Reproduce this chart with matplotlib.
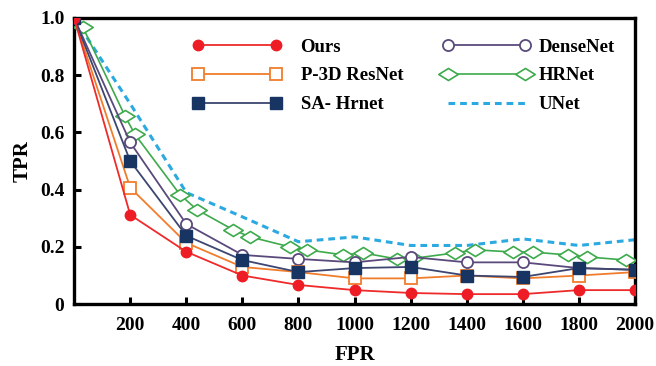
import matplotlib
matplotlib.use('Agg')
import matplotlib.pyplot as plt
from matplotlib.path import Path

fpr = [0, 200, 400, 600, 800, 1000, 1200, 1400, 1600, 1800, 2000]

ours     = [1.0, 0.312, 0.183, 0.100, 0.067, 0.049, 0.039, 0.035, 0.035, 0.049, 0.049]
p3d      = [1.0, 0.407, 0.214, 0.130, 0.112, 0.090, 0.090, 0.100, 0.090, 0.100, 0.112]
sa_hrnet = [1.0, 0.500, 0.239, 0.154, 0.112, 0.126, 0.130, 0.100, 0.095, 0.126, 0.120]
densenet = [1.0, 0.565, 0.280, 0.172, 0.158, 0.146, 0.165, 0.146, 0.146, 0.126, 0.120]
unet     = [1.0, 0.700, 0.390, 0.305, 0.218, 0.235, 0.205, 0.205, 0.228, 0.205, 0.225]

hrnet_x = [0, 30, 182, 217, 378, 438, 567, 627, 770, 830, 960, 1030, 1150, 1210,
           1358, 1430, 1565, 1635, 1760, 1830, 1968, 2000]
hrnet_y = [1.0, 0.97, 0.656, 0.593, 0.382, 0.330, 0.260, 0.235, 0.200, 0.190, 0.172, 0.179,
           0.158, 0.160, 0.179, 0.190, 0.182, 0.182, 0.172, 0.165, 0.154, 0.147]

xticks = [200, 400, 600, 800, 1000, 1200, 1400, 1600, 1800, 2000]
yticks = [0, 0.2, 0.4, 0.6, 0.8, 1.0]
ytick_labels = ['0', '0.2', '0.4', '0.6', '0.8', '1.0']

plt.rcParams['font.family'] = 'Liberation Serif'
plt.rcParams['font.weight'] = 'bold'

# flat diamond marker
diamond = Path([(-1, 0), (0, 0.62), (1, 0), (0, -0.62), (-1, 0)],
               [Path.MOVETO, Path.LINETO, Path.LINETO, Path.LINETO, Path.CLOSEPOLY])

fig = plt.figure(figsize=(6.56, 3.66), dpi=100)
ax = fig.add_axes([0.113, 0.169, 0.855, 0.782])

ax.plot(fpr, unet, color='#2BA9E1', linestyle=(0, (2.2, 1.6)), linewidth=2.2, label='UNet', zorder=2)
ax.plot(hrnet_x, hrnet_y, color='#3DAA4C', linewidth=1.2, marker=diamond, markersize=14,
        markerfacecolor='white', markeredgecolor='#3DAA4C', markeredgewidth=1.2,
        markevery=list(range(1, len(hrnet_x) - 1)), label='HRNet', zorder=3)
ax.plot(fpr, densenet, color='#5A4A7C', linewidth=1.3, marker='o', markersize=8,
        markerfacecolor='white', markeredgecolor='#5A4A7C', markeredgewidth=1.3,
        label='DenseNet', zorder=4)
ax.plot(fpr, p3d, color='#F07D2C', linewidth=1.3, marker='s', markersize=8.5,
        markerfacecolor='white', markeredgecolor='#F07D2C', markeredgewidth=1.3,
        label='P-3D ResNet', zorder=5)
ax.plot(fpr, sa_hrnet, color='#3C4670', linewidth=1.3, marker='s', markersize=8,
        markerfacecolor='#183462', markeredgecolor='#183462',
        label='SA- Hrnet', zorder=6)
ax.plot(fpr, ours, color='#EE2A2A', linewidth=1.3, marker='o', markersize=7.5,
        markerfacecolor='#EE1C25', markeredgecolor='#EE1C25',
        label='Ours', zorder=7)

ax.set_xlim(0, 2000)
ax.set_ylim(0, 1.0)
ax.set_xticks(xticks)
ax.set_xticklabels([str(t) for t in xticks], fontsize=14, fontweight='bold')
ax.set_yticks(yticks)
ax.set_yticklabels(ytick_labels, fontsize=14, fontweight='bold')
ax.tick_params(axis='x', direction='in', length=5, width=2.2, pad=9)
ax.tick_params(axis='y', direction='in', length=5, width=2.2, pad=7)
for s in ax.spines.values():
    s.set_linewidth(2.4)

ax.set_xlabel('FPR', fontsize=15, fontweight='bold', labelpad=8)
ax.set_ylabel('TPR', fontsize=15, fontweight='bold', labelpad=5)

handles, labels = ax.get_legend_handles_labels()
hmap = dict(zip(labels, handles))
col1 = ['Ours', 'P-3D ResNet', 'SA- Hrnet']
col2 = ['DenseNet', 'HRNet', 'UNet']
leg_kw = dict(loc='upper left', bbox_transform=fig.transFigure, frameon=False,
              labelspacing=0.62, numpoints=2, prop={'weight': 'bold', 'size': 13.5})
leg1 = ax.legend([hmap[k] for k in col1], col1, bbox_to_anchor=(0.267, 0.941),
                 handlelength=4.76, handletextpad=1.03, **leg_kw)
ax.add_artist(leg1)
ax.legend([hmap[k] for k in col2], col2, bbox_to_anchor=(0.649, 0.941),
          handlelength=4.7, handletextpad=0.4, **leg_kw)

fig.savefig('out.png', dpi=100)
